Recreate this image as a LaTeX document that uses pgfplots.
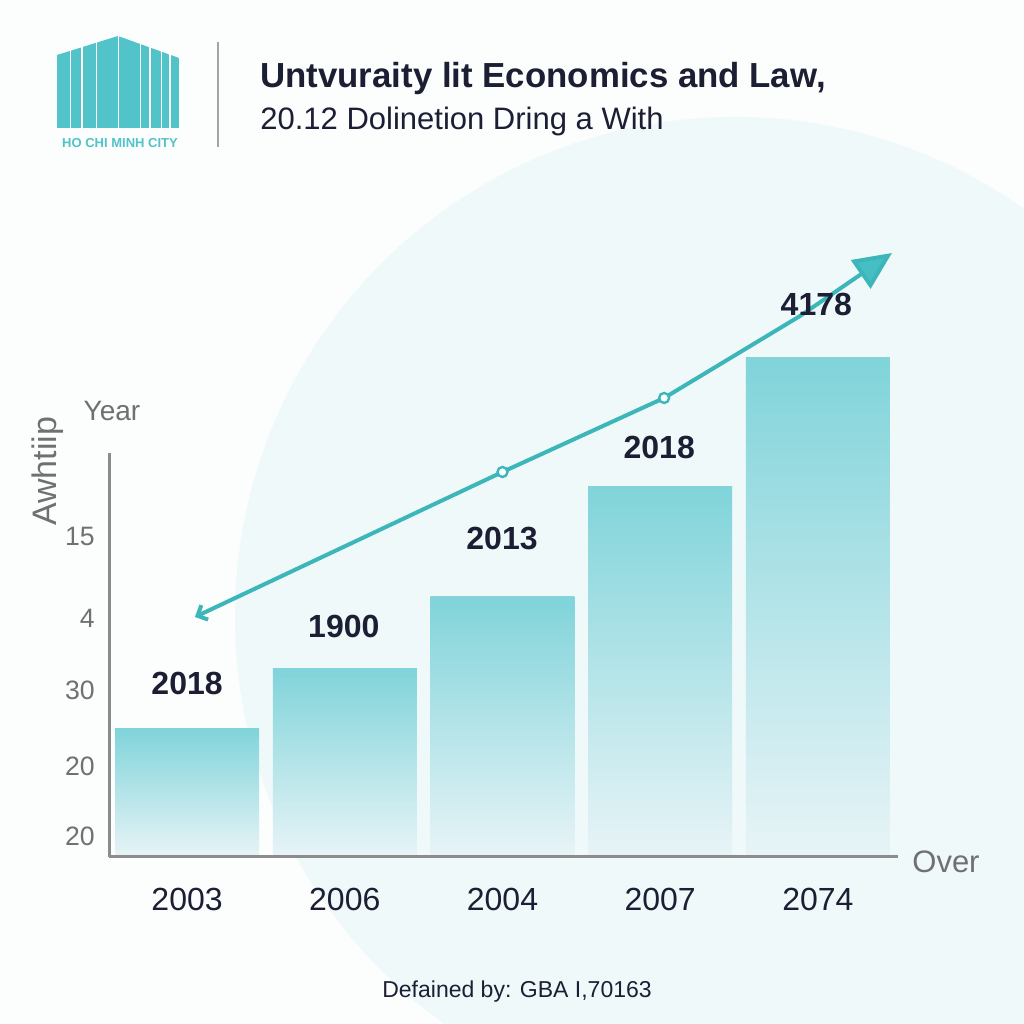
\documentclass[border=0pt]{standalone}
\usepackage{pgfplots}
\pgfplotsset{compat=1.18}
\usepackage{fontspec}
\setmainfont{Liberation Sans}
\usetikzlibrary{arrows.meta}
\definecolor{teal1}{RGB}{61,182,186}
\definecolor{tealhead}{RGB}{69,190,196}
\definecolor{bartop}{RGB}{128,212,218}
\definecolor{barbot}{RGB}{232,244,247}
\definecolor{navy}{RGB}{28,30,52}
\definecolor{txtgray}{RGB}{112,112,112}
\definecolor{axgray}{RGB}{140,140,140}
\definecolor{bgcirc}{RGB}{239,249,250}
\definecolor{bgwhite}{RGB}{252,253,253}
\definecolor{logoteal}{RGB}{82,195,201}
\newcommand\fs[1]{\fontsize{#1}{#1}\selectfont}

\begin{document}
\begin{tikzpicture}[x=0.5bp,y=0.5bp]
\path[use as bounding box, fill=bgwhite] (0,0) rectangle (1024,1024);
\begin{scope}
\clip (0,0) rectangle (1024,1024);
\fill[bgcirc] (735,407) circle (500);
\end{scope}
% logo
\begin{scope}
\clip (57,896) -- (57,969) -- (118,988) -- (179,966) -- (179,896) -- cycle;
\foreach \a/\b in {57.3/69.5, 71.2/81.2, 82.5/95.5, 96.8/118, 119.4/139.7, 141/149.3, 151/160.6, 162.3/169.2, 171/178.8}
  \fill[logoteal] (\a,890) rectangle (\b,995);
\end{scope}
\node[anchor=center, inner sep=0pt, text=logoteal, font=\bfseries\fs{6.5bp}] at (120,881) {HO CHI MINH CITY};
\draw[axgray!80, line width=1bp] (218,982) -- (218,877);
\node[anchor=base west, inner sep=0pt, text=navy, font=\bfseries\fs{17.4bp}] at (260,936) {Untvuraity lit Economics and Law,};
\node[anchor=base west, inner sep=0pt, text=navy, font=\fs{15.5bp}] at (260,894) {20.12 Dolinetion Dring a With};
\node[inner sep=0pt, text=txtgray, font=\fs{14bp}] at (112,613) {Year};
\node[inner sep=0pt, text=navy, font=\fs{11.5bp}] at (517,32) {Defained by: GBA I,70163};

\begin{axis}[
  at={(54.5bp,83.5bp)}, anchor=south west,
  scale only axis, width=394.5bp, height=202bp,
  xmin=-0.495, xmax=4.508, ymin=0, ymax=404,
  axis x line=bottom, axis y line=left,
  axis line style={-, draw=axgray, line width=1.5bp},
  axis on top=true,
  clip=false,
  /pgf/number format/assume math mode=true,
  xtick={0,1,2,3,4}, xticklabels={2003,2006,2004,2007,2074},
  ytick={21,91,167,239,321}, yticklabels={20,20,30,4,15},
  major tick length=0pt,
  xticklabel style={anchor=north, inner sep=0pt, yshift=-15.5bp, font=\fs{16bp}, text=navy},
  yticklabel style={anchor=east, inner sep=0pt, xshift=-7bp, font=\fs{13.3bp}, text=txtgray},
  ylabel={Awhtiip},
  ylabel style={at={(axis description cs:-0.0773,0.955)}, anchor=center, inner sep=0pt, font=\fs{17bp}, text=txtgray},
  xlabel={Over},
  xlabel style={at={(axis description cs:1.0177,-0.0124)}, anchor=west, inner sep=0pt, font=\fs{15.5bp}, text=txtgray},
  every axis plot/.append style={bar width=0.913},
]
\addplot[ybar, draw=none, top color=bartop, bottom color=barbot] coordinates {(0,128)};
\addplot[ybar, draw=none, top color=bartop, bottom color=barbot] coordinates {(1,188)};
\addplot[ybar, draw=none, top color=bartop, bottom color=barbot] coordinates {(2,260)};
\addplot[ybar, draw=none, top color=bartop, bottom color=barbot] coordinates {(3,370)};
\addplot[ybar, draw=none, top color=bartop, bottom color=barbot] coordinates {(4,499)};
\addplot[teal1, line width=2bp, {Straight Barb[length=4bp, width=8bp]}-{Triangle[length=19bp, width=17bp, fill=tealhead]}]
  coordinates {(0.05,240) (2.0,385) (3.025,459) (3.887,541) (4.47,604)};
\addplot[only marks, mark=*, mark size=2.5bp, mark options={fill=white, draw=teal1, line width=1.2bp}]
  coordinates {(2.0,385) (3.025,459)};
\addplot[draw=none, mark=none, nodes near coords, point meta=explicit symbolic,
  every node near coord/.append style={anchor=center, inner sep=0pt, font=\bfseries\fs{16bp}, text=navy}]
  table[meta=lab] {
x y lab
0 173.5 2018
0.994 230.5 1900
1.997 318 2013
2.994 409.5 2018
3.99 552 4178
};
\end{axis}
\end{tikzpicture}
\end{document}
